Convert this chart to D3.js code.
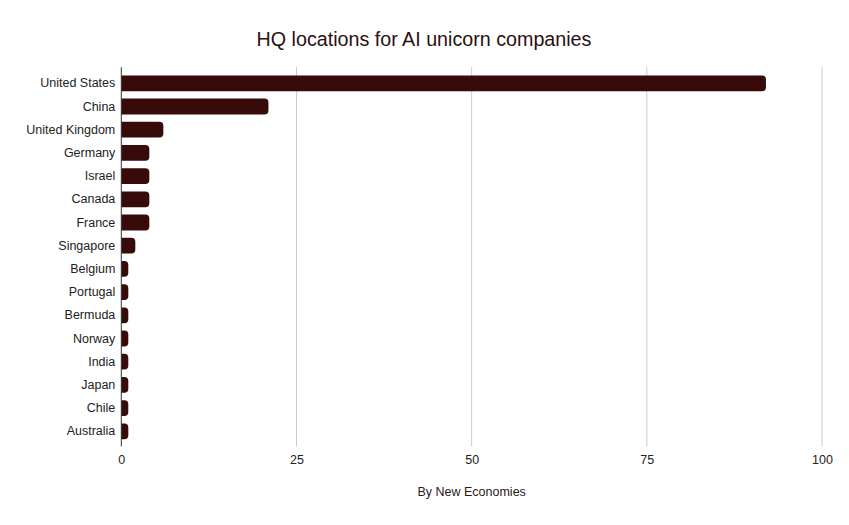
<!DOCTYPE html>
<html>
<head>
<meta charset="utf-8">
<script src="https://cdn.jsdelivr.net/npm/d3@7"></script>
<style>
  body { margin: 0; background: #fff; }
  text { font-family: "Liberation Sans", Arial, sans-serif; }
</style>
</head>
<body>
<div id="chart"></div>
<script>
var countries = ["United States", "China", "United Kingdom", "Germany", "Israel", "Canada",
  "France", "Singapore", "Belgium", "Portugal", "Bermuda", "Norway", "India", "Japan",
  "Chile", "Australia"];
var companies = [92, 21, 6, 4, 4, 4, 4, 2, 1, 1, 1, 1, 1, 1, 1, 1];
var xTicks = [0, 25, 50, 75, 100];

var svgWidth = 849;
var svgHeight = 525;

var margin = { top: 71.7, right: 27, bottom: 82, left: 121.3 };
var width = 822 - margin.left;
var height = 442.9 - margin.top;

var barColor = "#380b0b";

var svg = d3.select("#chart")
  .append("svg")
  .attr("width", svgWidth)
  .attr("height", svgHeight);

var data = countries.map(function(c, i) {
  return { country: c, value: companies[i] };
});

var x = d3.scaleLinear()
  .domain([0, 100])
  .range([0, width]);

var y = d3.scaleBand()
  .domain(countries)
  .range([0, height])
  .paddingInner(0.32)
  .paddingOuter(0.16);

var chartGroup = svg.append("g")
  .attr("transform", `translate(${margin.left}, ${margin.top})`);

// gridlines
chartGroup.selectAll("line.grid")
  .data(xTicks.slice(1))
  .enter()
  .append("line")
  .attr("class", "grid")
  .attr("x1", d => x(d))
  .attr("x2", d => x(d))
  .attr("y1", -4.5)
  .attr("y2", height + 3.5)
  .attr("stroke", "#cccccc")
  .attr("stroke-width", 1);

// bars, rounded on the right end only
var r = 4;
chartGroup.selectAll("path.bar")
  .data(data)
  .enter()
  .append("path")
  .attr("class", "bar")
  .attr("fill", barColor)
  .attr("d", function(d) {
    var w = x(d.value);
    var y0 = y(d.country);
    var h = y.bandwidth();
    var rr = Math.min(r, w);
    return `M0,${y0}H${w - rr}Q${w},${y0} ${w},${y0 + rr}V${y0 + h - rr}Q${w},${y0 + h} ${w - rr},${y0 + h}H0Z`;
  });

// baseline
chartGroup.append("line")
  .attr("x1", 0).attr("x2", 0)
  .attr("y1", -4.5).attr("y2", height + 3.5)
  .attr("stroke", "#333333")
  .attr("stroke-width", 1);

// y axis labels
var leftAxis = d3.axisLeft(y).tickSize(0).tickPadding(6);
chartGroup.append("g")
  .call(leftAxis)
  .call(g => g.select(".domain").remove())
  .selectAll("text")
  .attr("font-size", "12.5px")
  .attr("font-family", "Liberation Sans, Arial, sans-serif")
  .attr("fill", "#222222");

// x axis labels
var bottomAxis = d3.axisBottom(x).tickValues(xTicks).tickSize(0).tickPadding(12);
chartGroup.append("g")
  .attr("transform", `translate(0, ${height})`)
  .call(bottomAxis)
  .call(g => g.select(".domain").remove())
  .selectAll("text")
  .attr("font-size", "12.5px")
  .attr("font-family", "Liberation Sans, Arial, sans-serif")
  .attr("fill", "#222222");

// title
svg.append("text")
  .attr("x", 424)
  .attr("y", 46)
  .attr("text-anchor", "middle")
  .attr("font-size", "19.7px")
  .attr("fill", "#2a1010")
  .text("HQ locations for AI unicorn companies");

// axis title
svg.append("text")
  .attr("x", margin.left + width / 2)
  .attr("y", 496)
  .attr("text-anchor", "middle")
  .attr("font-size", "12.5px")
  .attr("fill", "#2a1a1a")
  .text("By New Economies");
</script>
</body>
</html>
